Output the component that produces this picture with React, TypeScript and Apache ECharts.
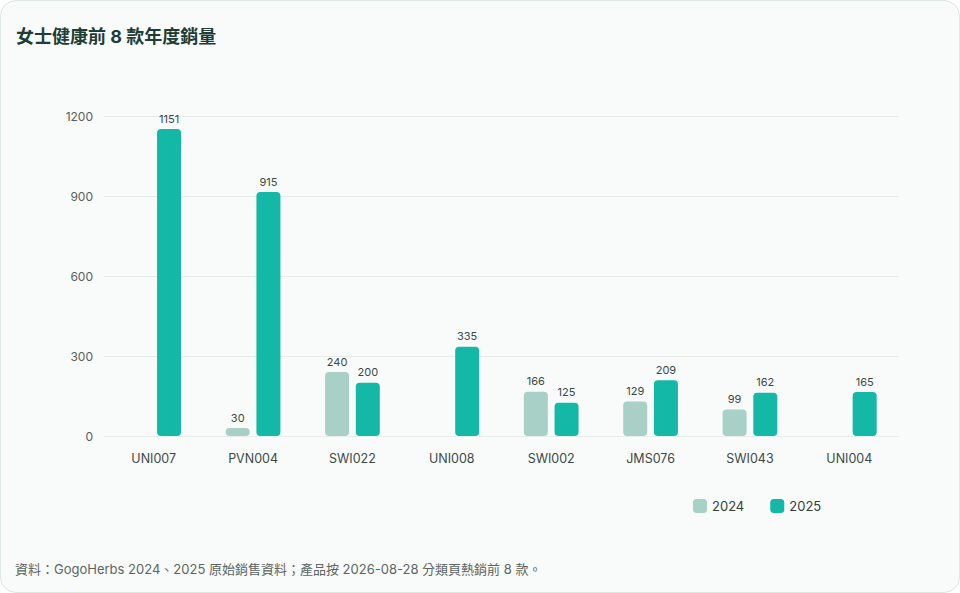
import React, { useEffect, useRef } from 'react';
import * as echarts from 'echarts';

const categories = ['UNI007', 'PVN004', 'SWI022', 'UNI008', 'SWI002', 'JMS076', 'SWI043', 'UNI004'];
const sales2024: (number | null)[] = [null, 30, 240, null, 166, 129, 99, null];
const sales2025: number[] = [1151, 915, 200, 335, 125, 209, 162, 165];
const yTicks = { min: 0, max: 1200, interval: 300 };

const TITLE = '女士健康前 8 款年度銷量';
const NOTE = '資料：GogoHerbs 2024、2025 原始銷售資料；產品按 2026-08-28 分類頁熱銷前 8 款。';

const FONT = 'Inter, "Noto Sans CJK TC", "Noto Sans", sans-serif';

const App: React.FC = () => {
  const chartRef = useRef<HTMLDivElement>(null);

  useEffect(() => {
    document.body.style.margin = '0';
    if (!chartRef.current) return;
    const chart = echarts.init(chartRef.current, undefined, { renderer: 'svg' });

    const labelStyle = {
      show: true,
      position: 'top' as const,
      distance: 5,
      color: '#3a4a46',
      fontSize: 11,
      fontFamily: FONT
    };

    chart.setOption({
      animation: false,
      backgroundColor: 'transparent',
      textStyle: { fontFamily: FONT },
      title: {
        text: TITLE,
        left: 10,
        top: 21,
        textStyle: { fontSize: 18, fontWeight: 'bold', color: '#1d3d35', fontFamily: FONT }
      },
      legend: {
        data: ['2024', '2025'],
        left: 687,
        top: 493,
        itemWidth: 14,
        itemHeight: 14,
        itemGap: 26,
        icon: 'roundRect',
        textStyle: { fontSize: 13, color: '#33413d', fontFamily: FONT }
      },
      graphic: [
        {
          type: 'text',
          left: 14,
          top: 561,
          style: { text: NOTE, fontSize: 13, fill: '#5b6662', fontFamily: FONT }
        }
      ],
      grid: { left: 103, right: 60, top: 115, bottom: 156 },
      xAxis: {
        type: 'category',
        data: categories,
        axisLine: { show: true, lineStyle: { color: '#e8ecea' } },
        axisTick: { show: false },
        axisLabel: { color: '#3b4a46', fontSize: 12.5, margin: 16, fontFamily: FONT }
      },
      yAxis: {
        type: 'value',
        min: yTicks.min,
        max: yTicks.max,
        interval: yTicks.interval,
        axisLine: { show: false },
        axisTick: { show: false },
        axisLabel: {
          color: '#55605c',
          fontSize: 12,
          margin: 11,
          fontFamily: FONT,
          formatter: (v: number) => String(v)
        },
        splitLine: { lineStyle: { color: '#e6ebe9' } }
      },
      series: [
        {
          name: '2024',
          type: 'bar',
          data: sales2024,
          barWidth: 24,
          barGap: '28%',
          itemStyle: { color: '#a8d0c6', borderRadius: 4 },
          label: labelStyle
        },
        {
          name: '2025',
          type: 'bar',
          data: sales2025,
          barWidth: 24,
          itemStyle: { color: '#14b8a6', borderRadius: 4 },
          label: labelStyle
        }
      ]
    });

    const onResize = () => chart.resize();
    window.addEventListener('resize', onResize);
    return () => {
      window.removeEventListener('resize', onResize);
      chart.dispose();
    };
  }, []);

  return (
    <div
      style={{
        width: 960,
        height: 593,
        boxSizing: 'border-box',
        border: '1px solid #dde6e3',
        borderRadius: 16,
        background: '#f9fbfa',
        overflow: 'hidden'
      }}
    >
      <div ref={chartRef} style={{ width: 958, height: 591 }} />
    </div>
  );
};

export default App;
